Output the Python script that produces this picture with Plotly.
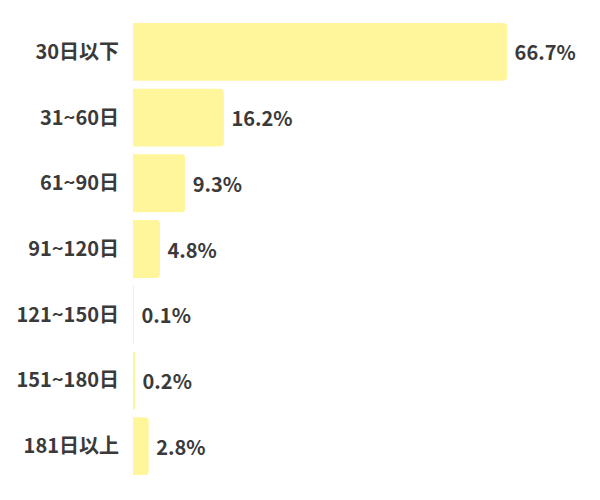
import plotly.graph_objects as go

# Share of each period bucket (%)
categories = ["30日以下", "31~60日", "61~90日", "91~120日", "121~150日", "151~180日", "181日以上"]
values = [66.7, 16.2, 9.3, 4.8, 0.1, 0.2, 2.8]
value_labels = ["66.7%", "16.2%", "9.3%", "4.8%", "0.1%", "0.2%", "2.8%"]

fig = go.Figure(
    go.Bar(
        x=values,
        y=categories,
        orientation="h",
        marker=dict(color="#FFF59A", cornerradius=4, line=dict(width=0)),
        text=["\u00a0" + t for t in value_labels],
        textposition="outside",
        textfont=dict(size=20, color="#3a3a3a"),
        cliponaxis=False,
        hoverinfo="skip",
    )
)

fig.update_layout(
    width=600,
    height=500,
    margin=dict(l=125, r=0, t=11, b=29),
    plot_bgcolor="white",
    paper_bgcolor="white",
    bargap=0.12,
    showlegend=False,
    font=dict(family="Noto Sans CJK JP", size=20, color="#3a3a3a", weight="bold"),
)

fig.update_xaxes(range=[0, 84.7], visible=False, showgrid=False, zeroline=False)
fig.update_yaxes(
    autorange="reversed",
    showgrid=False,
    zeroline=False,
    showline=False,
    ticks="",
    ticklabelstandoff=13,
    tickfont=dict(size=20, color="#3a3a3a"),
)

fig.write_html("out.html")
